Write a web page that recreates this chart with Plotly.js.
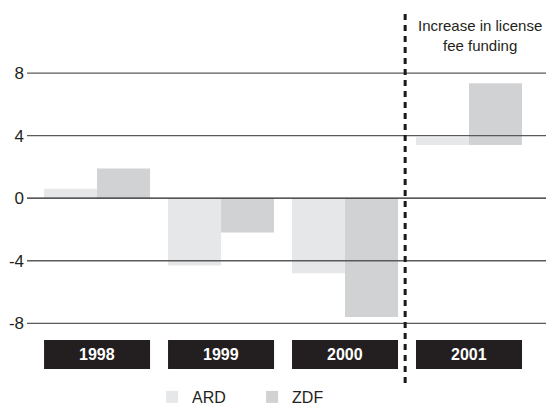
<!DOCTYPE html>
<html>
<head>
<meta charset="utf-8">
<script src="https://cdn.plot.ly/plotly-3.0.1.min.js"></script>
<style>html,body{margin:0;padding:0;background:#fff;}#chart{width:546px;height:407px;}</style>
</head>
<body>
<div id="chart"></div>
<script>
var years = ['1998', '1999', '2000', '2001'];
var ardValues = [0.6, -4.3, -4.8, 0.5];
var zdfValues = [1.9, -2.2, -7.6, 3.95];
var barBase = [0, 0, 0, 3.4];
var tickValues = [8, 4, 0, -4, -8];
var tickLabels = ['8', '4', '0', '-4', '-8'];
var noteText = 'Increase in license<br>fee funding';

var FONT = '"Liberation Sans Narrow", "Arial Narrow", "Liberation Sans", Arial, sans-serif';
var xpos = years.map(function (_, i) { return i; });

var traces = [
  {type: 'bar', name: 'ARD', x: xpos, y: ardValues, base: barBase,
   marker: {color: '#e6e7e8', line: {width: 0}}, hoverinfo: 'skip'},
  {type: 'bar', name: 'ZDF', x: xpos, y: zdfValues, base: barBase,
   marker: {color: '#d1d2d4', line: {width: 0}}, hoverinfo: 'skip'}
];

var shapes = [];
tickValues.forEach(function (v) {
  shapes.push({type: 'line', layer: 'above', xref: 'paper', yref: 'y', x0: 0, x1: 1, y0: v, y1: v,
    line: {color: v === 0 ? '#222' : '#5a5a5a', width: v === 0 ? 1.2 : 1.3}});
});
var annotations = [];
years.forEach(function (yr, i) {
  shapes.push({type: 'rect', layer: 'above', xref: 'x', yref: 'y', x0: i - 0.4275, x1: i + 0.4275,
    y0: -10.92, y1: -9.07, fillcolor: '#231f20', line: {width: 0}});
  annotations.push({xref: 'x', yref: 'y', x: i, y: -9.99, text: '<b>' + yr + '</b>', showarrow: false,
    font: {family: FONT, size: 16, color: '#ffffff'}});
});
shapes.push({type: 'line', layer: 'above', xref: 'x', yref: 'paper', x0: 2.485, x1: 2.485, y0: 0.059, y1: 0.968,
  line: {color: '#1a1a1a', width: 3, dash: '6px,5px'}});
annotations.push({xref: 'x', yref: 'paper', x: 3.085, y: 0.963, yanchor: 'top', text: noteText, showarrow: false,
  align: 'center', font: {family: FONT, size: 15, color: '#231f20'}});

var layout = {
  width: 546, height: 407,
  margin: {l: 27, r: 0, t: 0, b: 0, pad: 0, autoexpand: false},
  paper_bgcolor: '#ffffff', plot_bgcolor: '#ffffff',
  barmode: 'group', bargap: 0.145, bargroupgap: 0,
  showlegend: true,
  legend: {orientation: 'h', x: 0.241, xanchor: 'left', y: 0.0246, yanchor: 'middle',
    font: {family: FONT, size: 16, color: '#231f20'}, itemwidth: 30, entrywidth: 55, tracegroupgap: 0,
    bgcolor: 'rgba(0,0,0,0)'},
  xaxis: {range: [-0.565, 3.621], showgrid: false, zeroline: false, showline: false,
    showticklabels: false, ticks: '', fixedrange: true},
  yaxis: {range: [-13.35, 12.67], tickvals: tickValues, ticktext: tickLabels, showgrid: false,
    zeroline: false, showline: false, ticks: '', ticklabelstandoff: 2,
    tickfont: {family: FONT, size: 17, color: '#231f20'}, fixedrange: true},
  shapes: shapes,
  annotations: annotations,
  font: {family: FONT}
};

Plotly.newPlot('chart', traces, layout, {staticPlot: true, displayModeBar: false});
</script>
</body>
</html>
